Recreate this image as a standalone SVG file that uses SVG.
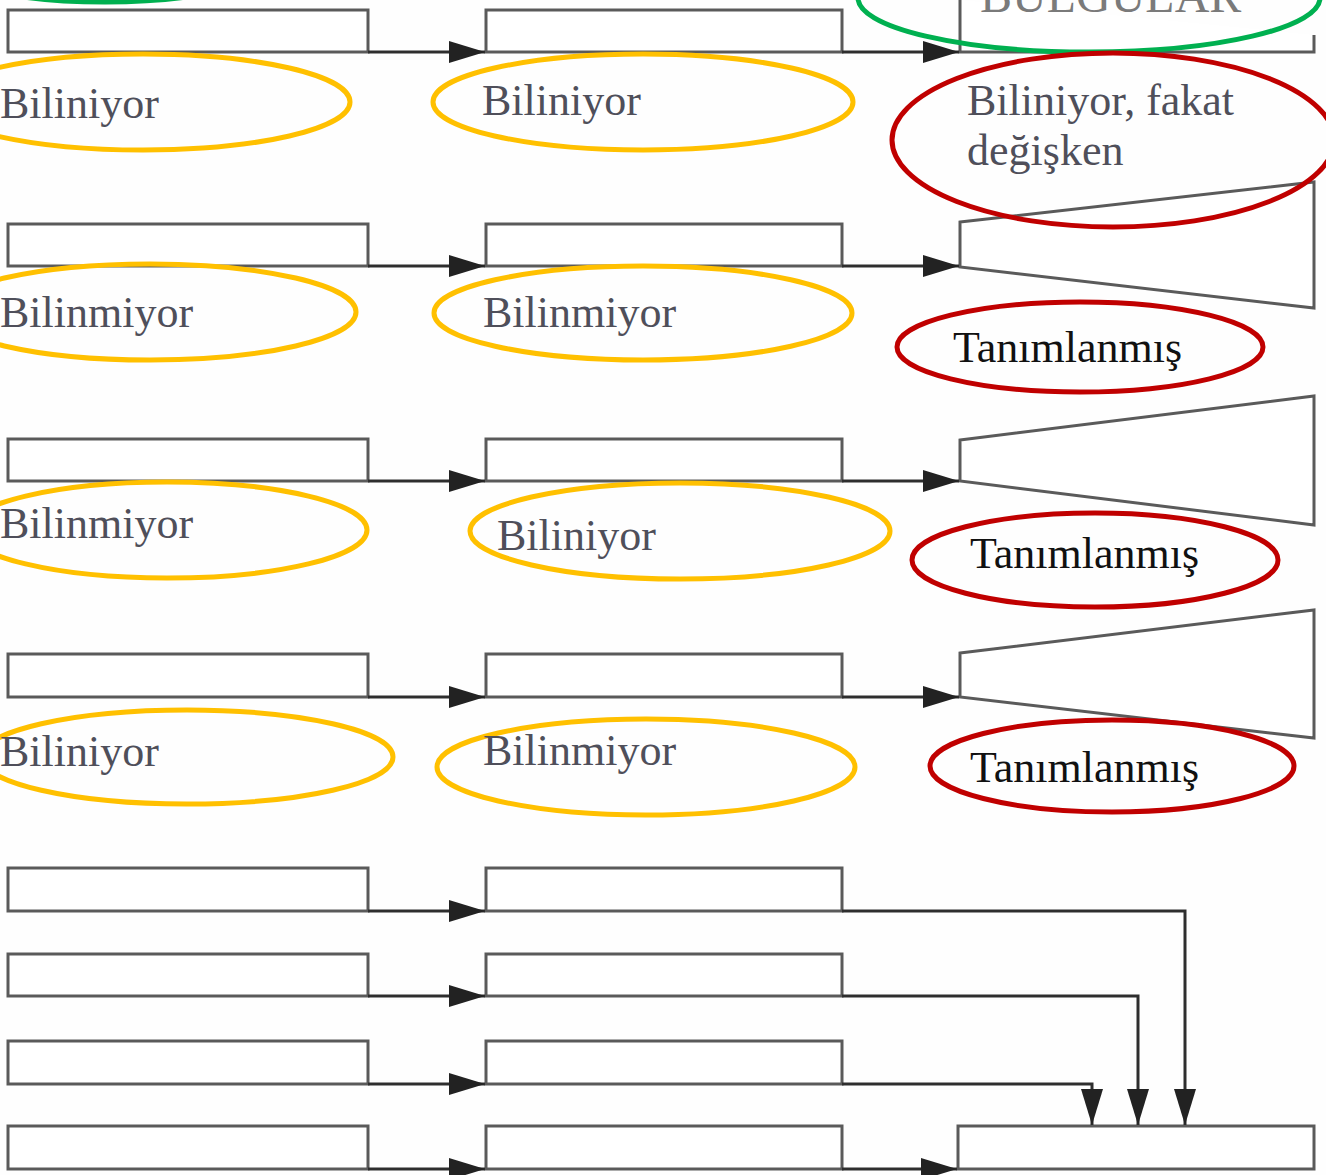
<svg xmlns="http://www.w3.org/2000/svg" width="1326" height="1175" viewBox="0 0 1326 1175">
<style>
.box{fill:#fff;stroke:#5a5a5a;stroke-width:3}
.con{fill:none;stroke:#2e2e2e;stroke-width:3}
.yel{fill:none;stroke:#FFC000;stroke-width:5}
.red{fill:none;stroke:#C00000;stroke-width:5}
.grn{fill:none;stroke:#00B050;stroke-width:5}
.t{font-family:"Liberation Serif","Times New Roman",serif;font-size:44px;fill:#4f4f5a}
.tb{font-family:"Liberation Serif","Times New Roman",serif;font-size:44px;fill:#111}
.tg{font-family:"Liberation Serif","Times New Roman",serif;font-size:48px;fill:#7a7a7a}
</style>
<defs>
<marker id="ah" markerUnits="userSpaceOnUse" markerWidth="36" markerHeight="22" refX="36" refY="11" orient="auto">
<path d="M0,0 L36,11 L0,22 z" fill="#222"/>
</marker>
</defs>
<rect width="1326" height="1175" fill="#fefefe"/>

<g id="nodes">
<g id="r1a"><rect class="box" x="8" y="10" width="360" height="42"/></g>
<g id="r1b"><rect class="box" x="486" y="10" width="356" height="42"/></g>
<g id="r1c"><path class="box" d="M960,0 V52 H1314 V35" fill="none"/><text class="tg" x="980" y="12">BULGULAR</text></g>

<g id="r2a"><rect class="box" x="8" y="224" width="360" height="42"/></g>
<g id="r2b"><rect class="box" x="486" y="224" width="356" height="42"/></g>
<g id="r2c"><polygon class="box" points="960,222 1314,182 1314,308 960,267"/></g>

<g id="r3a"><rect class="box" x="8" y="439" width="360" height="42"/></g>
<g id="r3b"><rect class="box" x="486" y="439" width="356" height="42"/></g>
<g id="r3c"><polygon class="box" points="960,440 1314,396 1314,525 960,481"/></g>

<g id="r4a"><rect class="box" x="8" y="654" width="360" height="43"/></g>
<g id="r4b"><rect class="box" x="486" y="654" width="356" height="43"/></g>
<g id="r4c"><polygon class="box" points="960,653 1314,610 1314,738 960,697"/></g>

<g id="bAa"><rect class="box" x="8" y="868" width="360" height="43"/></g>
<g id="bAb"><rect class="box" x="486" y="868" width="356" height="43"/></g>
<g id="bBa"><rect class="box" x="8" y="954" width="360" height="42"/></g>
<g id="bBb"><rect class="box" x="486" y="954" width="356" height="42"/></g>
<g id="bCa"><rect class="box" x="8" y="1041" width="360" height="43"/></g>
<g id="bCb"><rect class="box" x="486" y="1041" width="356" height="43"/></g>
<g id="bDa"><rect class="box" x="8" y="1126" width="360" height="43"/></g>
<g id="bDb"><rect class="box" x="486" y="1126" width="356" height="43"/></g>
<g id="bDc"><rect class="box" x="958" y="1126" width="356" height="43"/></g>
</g>

<g id="connectors">
<path class="con" d="M368,52 H485" marker-end="url(#ah)"/>
<path class="con" d="M842,52 H959" marker-end="url(#ah)"/>
<path class="con" d="M368,266 H485" marker-end="url(#ah)"/>
<path class="con" d="M842,266 H959" marker-end="url(#ah)"/>
<path class="con" d="M368,481 H485" marker-end="url(#ah)"/>
<path class="con" d="M842,481 H959" marker-end="url(#ah)"/>
<path class="con" d="M368,697 H485" marker-end="url(#ah)"/>
<path class="con" d="M842,697 H959" marker-end="url(#ah)"/>
<path class="con" d="M368,911 H485" marker-end="url(#ah)"/>
<path class="con" d="M368,996 H485" marker-end="url(#ah)"/>
<path class="con" d="M368,1084 H485" marker-end="url(#ah)"/>
<path class="con" d="M368,1169 H485" marker-end="url(#ah)"/>
<path class="con" d="M842,911 H1185 V1125" marker-end="url(#ah)"/>
<path class="con" d="M842,996 H1138 V1125" marker-end="url(#ah)"/>
<path class="con" d="M842,1084 H1092 V1125" marker-end="url(#ah)"/>
<path class="con" d="M842,1169 H957" marker-end="url(#ah)"/>
</g>

<g id="labels">
<g id="g-top-left"><ellipse class="grn" cx="105" cy="-25" rx="140" ry="27"/></g>
<g id="g-top-right"><ellipse class="grn" cx="1089" cy="-2" rx="231" ry="54"/></g>

<g id="l1a"><ellipse class="yel" cx="143" cy="102" rx="207" ry="48"/><text class="t" x="0" y="118">Biliniyor</text></g>
<g id="l1b"><ellipse class="yel" cx="643" cy="102" rx="210" ry="48"/><text class="t" x="482" y="115">Biliniyor</text></g>
<g id="l1c"><ellipse class="red" cx="1113" cy="140" rx="221" ry="87"/><text class="t" x="967" y="115">Biliniyor, fakat</text><text class="t" x="967" y="165">değişken</text></g>

<g id="l2a"><ellipse class="yel" cx="150" cy="312" rx="206" ry="48"/><text class="t" x="0" y="327">Bilinmiyor</text></g>
<g id="l2b"><ellipse class="yel" cx="643" cy="313" rx="209" ry="47"/><text class="t" x="483" y="327">Bilinmiyor</text></g>
<g id="l2c"><ellipse class="red" cx="1080" cy="347" rx="183" ry="45"/><text class="tb" x="953" y="362">Tanımlanmış</text></g>

<g id="l3a"><ellipse class="yel" cx="167" cy="530" rx="200" ry="48"/><text class="t" x="0" y="538">Bilinmiyor</text></g>
<g id="l3b"><ellipse class="yel" cx="680" cy="531" rx="210" ry="48"/><text class="t" x="497" y="550">Biliniyor</text></g>
<g id="l3c"><ellipse class="red" cx="1095" cy="560" rx="183" ry="47"/><text class="tb" x="970" y="568">Tanımlanmış</text></g>

<g id="l4a"><ellipse class="yel" cx="187" cy="757" rx="206" ry="47"/><text class="t" x="0" y="766">Biliniyor</text></g>
<g id="l4b"><ellipse class="yel" cx="646" cy="767" rx="209" ry="48"/><text class="t" x="483" y="765">Bilinmiyor</text></g>
<g id="l4c"><ellipse class="red" cx="1112" cy="766" rx="182" ry="46"/><text class="tb" x="970" y="782">Tanımlanmış</text></g>
</g>
</svg>
